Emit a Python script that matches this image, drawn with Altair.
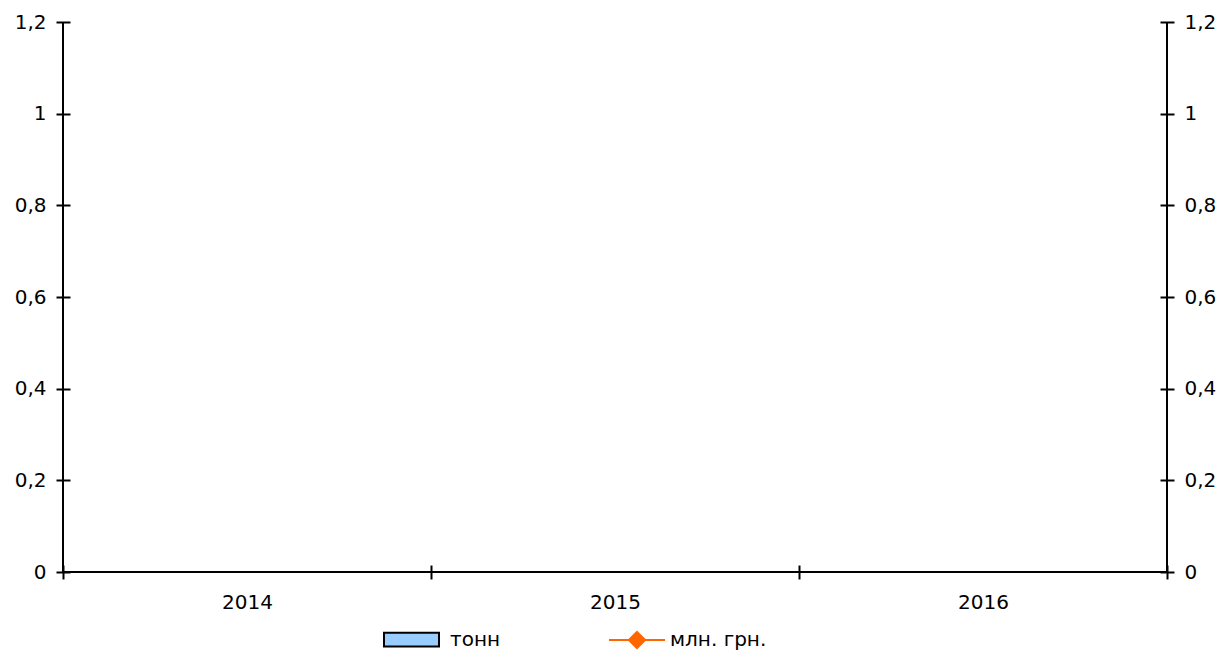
import altair as alt
import pandas as pd

# ---- data (empty chart: no values plotted) ----
years = ["2014", "2015", "2016"]
tonnes = [None, None, None]          # тонн (bars) – nothing drawn
mln_uah = [None, None, None]         # млн. грн. (line) – nothing drawn
y_ticks = [0, 0.2, 0.4, 0.6, 0.8, 1.0, 1.2]
series_bar = ["тонн"]
series_line = ["млн. грн."]
bar_color = ["#99CCFF"]
line_color = ["#FF6600"]

df = pd.DataFrame({"year": years, "tonn": tonnes, "mln": mln_uah})

FONT = "DejaVu Sans"
FS = 20
W, H = 1104, 550
label_expr = "replace('' + datum.value, '.', ',')"

x_enc = alt.X(
    "year:N",
    scale=alt.Scale(domain=years, paddingInner=0, paddingOuter=0),
    axis=alt.Axis(
        orient="bottom", title=None, domain=False, grid=False,
        offset=-7, tickSize=14, tickWidth=2, tickColor="black",
        tickBand="extent", labelAngle=0, labelPadding=13,
        labelFont=FONT, labelFontSize=FS, labelColor="black",
    ),
)

def y_axis(orient):
    return alt.Axis(
        orient=orient, title=None, domain=False, grid=False,
        values=y_ticks, offset=-7, tickSize=14, tickWidth=2,
        tickColor="black", labelPadding=10, labelExpr=label_expr,
        labelFont=FONT, labelFontSize=FS, labelColor="black",
    )

bars = alt.Chart(df).transform_calculate(s="'тонн'").mark_bar(
    stroke="black", strokeWidth=2
).encode(
    x=x_enc,
    y=alt.Y("tonn:Q", scale=alt.Scale(domain=[0, 1.2], nice=False), axis=y_axis("left")),
    fill=alt.Fill(
        "s:N",
        scale=alt.Scale(domain=series_bar, range=bar_color),
        legend=alt.Legend(
            title=None, orient="none", legendX=320, legendY=589,
            padding=0,
            symbolType="M-1,-0.25L1,-0.25L1,0.25L-1,0.25Z",
            symbolSize=3025, symbolStrokeColor="black", symbolStrokeWidth=2,
            labelFont=FONT, labelFontSize=FS, labelColor="black",
            labelOffset=10,
        ),
    ),
)

line = alt.Chart(df).transform_calculate(s2="'млн. грн.'").mark_line(
    color="#FF6600", strokeWidth=2, point=alt.OverlayMarkDef(shape="diamond", filled=True, color="#FF6600")
).encode(
    x=alt.X("year:N", scale=alt.Scale(domain=years)),
    y=alt.Y("mln:Q", scale=alt.Scale(domain=[0, 1.2], nice=False), axis=y_axis("right")),
    stroke=alt.Stroke(
        "s2:N",
        scale=alt.Scale(domain=series_line, range=line_color),
        legend=alt.Legend(
            title=None, orient="none", legendX=545, legendY=589,
            padding=0,
            symbolType="M-1,0L1,0M0,-0.29L0.29,0L0,0.29L-0.29,0Z",
            symbolSize=3136, symbolStrokeWidth=2,
            symbolFillColor="#FF6600",
            labelFont=FONT, labelFontSize=FS, labelColor="black",
            labelOffset=4,
        ),
    ),
)

one = pd.DataFrame({"k": [0]})
rule_left = alt.Chart(one).mark_rule(color="black", strokeWidth=2).encode(
    x=alt.value(0), y=alt.value(0), y2=alt.value(H))
rule_right = alt.Chart(one).mark_rule(color="black", strokeWidth=2).encode(
    x=alt.value(W), y=alt.value(0), y2=alt.value(H))
rule_bottom = alt.Chart(one).mark_rule(color="black", strokeWidth=2).encode(
    x=alt.value(0), x2=alt.value(W), y=alt.value(H))

chart = alt.layer(bars, line, rule_left, rule_right, rule_bottom).resolve_scale(
    y="independent"
).properties(
    width=W, height=H,
    autosize=alt.AutoSizeParams(type="none"),
    padding={"left": 55, "top": 14, "right": 50, "bottom": 79},
    background="white",
).configure_view(stroke=None)

chart.save("out.html", embed_options={"renderer": "svg", "actions": False})
